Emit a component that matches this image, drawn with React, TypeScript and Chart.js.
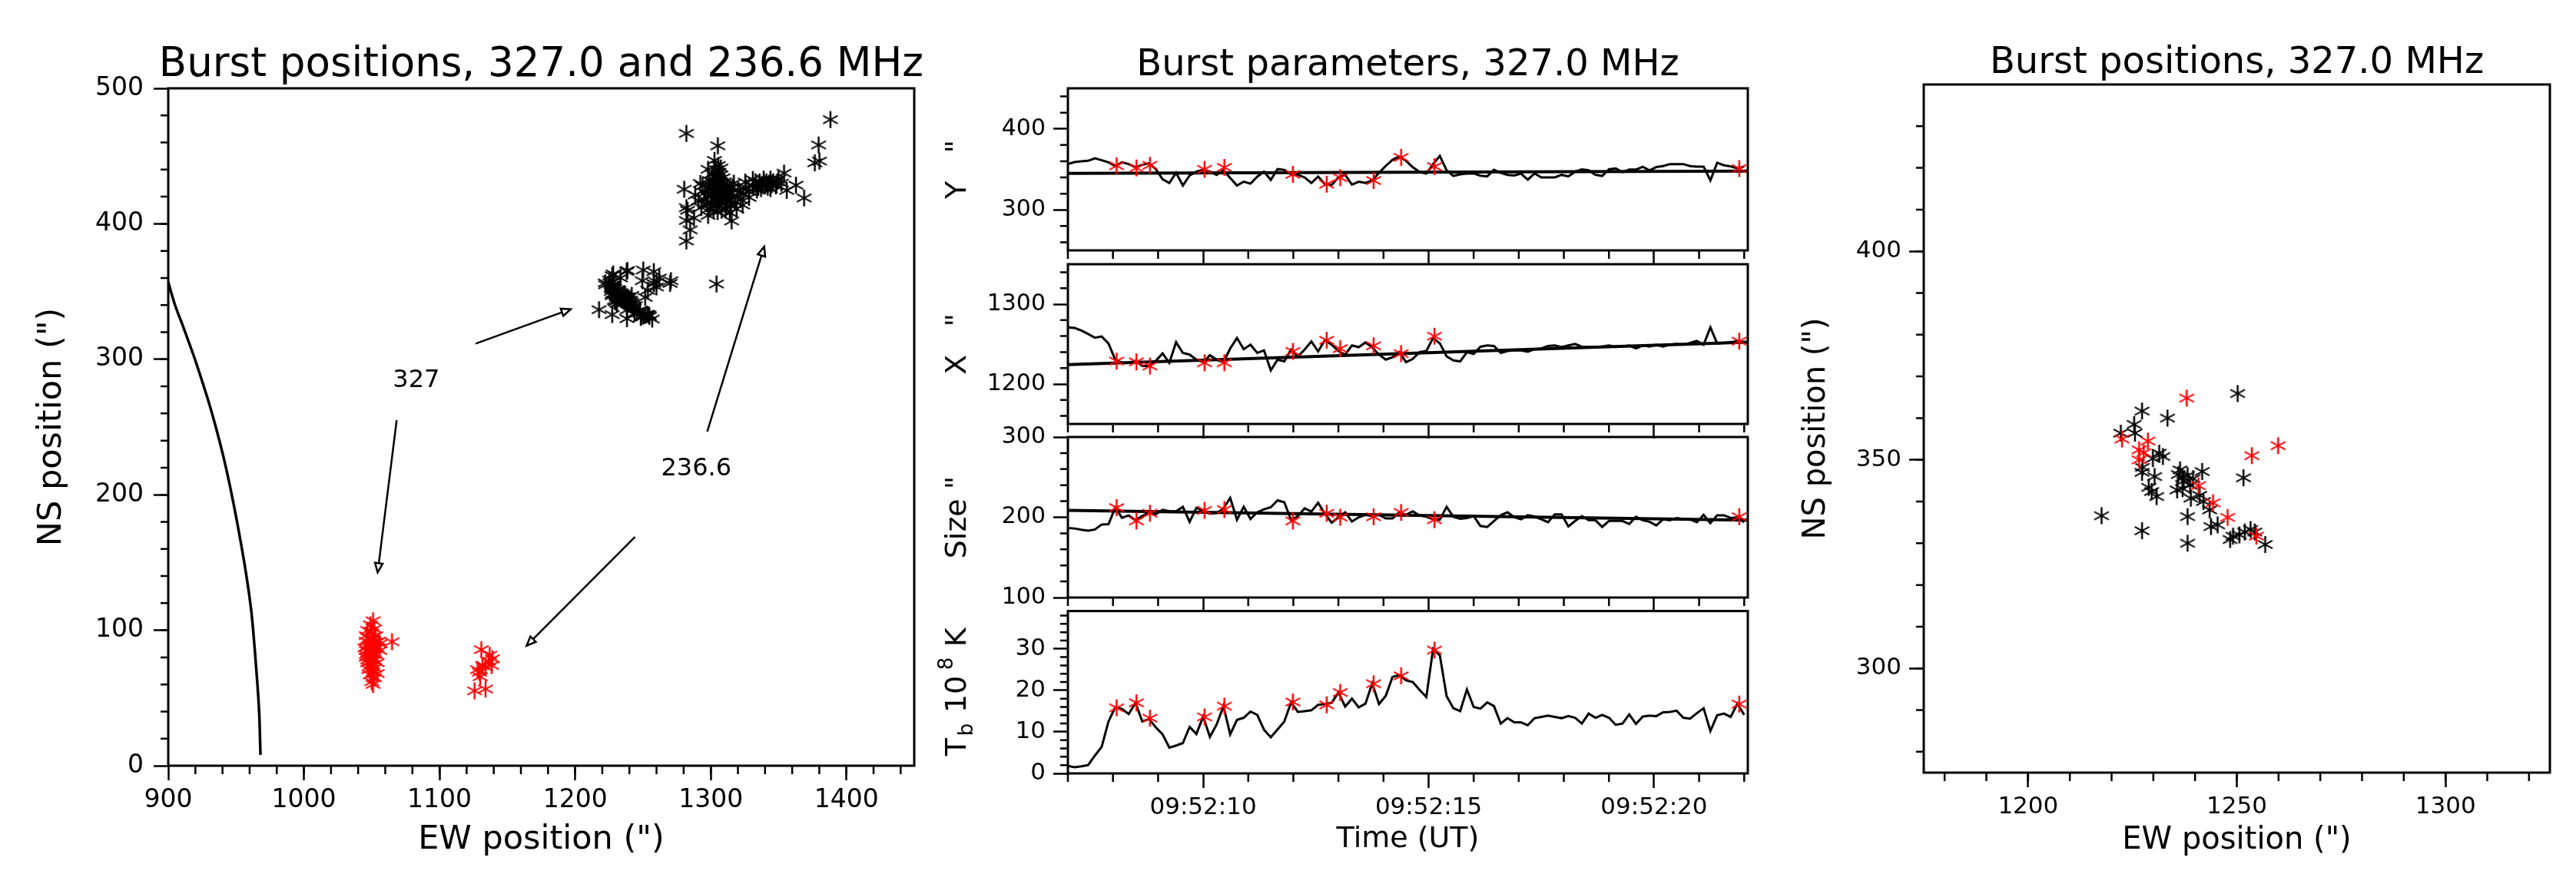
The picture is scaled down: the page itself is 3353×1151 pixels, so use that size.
import { useEffect, useRef } from "react"
import { Chart, registerables } from "chart.js"

Chart.register(...registerables)

const FONT = "'DejaVu Sans'"

// seconds after 09:52:00
const TIMES = [
	7.0, 7.15, 7.3, 7.45, 7.6, 7.75, 7.9, 8.05, 8.2, 8.35,
	8.5, 8.65, 8.8, 8.95, 9.1, 9.25, 9.4, 9.55, 9.7, 9.85,
	10.0, 10.15, 10.3, 10.45, 10.6, 10.75, 10.9, 11.05, 11.2, 11.35,
	11.5, 11.65, 11.8, 11.95, 12.1, 12.25, 12.4, 12.55, 12.7, 12.85,
	13.0, 13.15, 13.3, 13.45, 13.6, 13.75, 13.9, 14.05, 14.2, 14.35,
	14.5, 14.65, 14.8, 14.95, 15.1, 15.25, 15.4, 15.55, 15.7, 15.85,
	16.0, 16.15, 16.3, 16.45, 16.6, 16.75, 16.9, 17.05, 17.2, 17.35,
	17.5, 17.65, 17.8, 17.95, 18.1, 18.25, 18.4, 18.55, 18.7, 18.85,
	19.0, 19.15, 19.3, 19.45, 19.6, 19.75, 19.9, 20.05, 20.2, 20.35,
	20.5, 20.65, 20.8, 20.95, 21.1, 21.25, 21.4, 21.55, 21.7, 21.85,
	22.0,
]
const Y_SERIES = [
	356.5, 359, 359.9, 360.6, 363.7, 361.2, 358.7, 354.3, 358.7, 356.5,
	352.5, 355.6, 357.5, 350.3, 337.9, 333.2, 345.7, 330.1, 342.5, 347.2,
	349.4, 347.2, 343.2, 348.8, 339.4, 330.1, 334.8, 332.3, 341, 347.2,
	337, 350.3, 349.4, 344.1, 343.2, 340.1, 333.2, 341, 331.7, 330.7,
	340.1, 343.2, 331.1, 334.8, 333.2, 336.3, 345.7, 354.3, 361.8, 365.8,
	360.6, 352.5, 346.9, 344.7, 356.5, 366.5, 348.8, 341.9, 343.8, 344.7,
	345, 342.2, 341.3, 349.4, 345.7, 343.2, 342.5, 344.7, 337.3, 345,
	340.1, 340.1, 340.1, 343.2, 341.3, 347.2, 350, 348.8, 343.2, 341.9,
	350, 351.2, 346.6, 349.7, 349.7, 353.1, 348.8, 352.8, 354, 356.5,
	356.5, 356.5, 354, 353.4, 353.4, 336.3, 358.1, 355, 353.7, 351.2,
	353.4,
]
const X_SERIES = [
	1271, 1270.1, 1267, 1262.6, 1257.9, 1259.5, 1250.8, 1230.5, 1226.5, 1226.8,
	1229, 1222.7, 1222.7, 1229, 1238.3, 1226.5, 1252.3, 1238.9, 1236.8, 1230.5,
	1227.4, 1236.1, 1230.5, 1227.4, 1244.5, 1257.6, 1243.6, 1249.2, 1238.9, 1242.1,
	1217.1, 1230.5, 1228.3, 1243, 1234.6, 1243, 1253.3, 1240.8, 1254.8, 1249.2,
	1241.4, 1236.8, 1248.3, 1246.1, 1252, 1246.1, 1236.8, 1230.5, 1233.6, 1239.9,
	1227.4, 1231.5, 1239.9, 1241.4, 1257.6, 1250.8, 1234.6, 1229.6, 1228.3, 1239.9,
	1237.7, 1246.7, 1248.3, 1247.7, 1238.9, 1241.4, 1242.4, 1242.1, 1240.5, 1243.6,
	1244.5, 1247.7, 1248.3, 1246.1, 1248.3, 1250.2, 1246.7, 1246.1, 1246.1, 1247,
	1248.3, 1246.4, 1247, 1248.3, 1244.5, 1248.3, 1247, 1249.2, 1247, 1249.2,
	1250.2, 1249.2, 1251.4, 1253.9, 1249.2, 1271, 1250.8, 1251.4, 1252.3, 1253.9,
	1252.3,
]
const SIZE_SERIES = [
	186.7, 186, 184.5, 183.3, 184.8, 191, 191.3, 211.8, 199.4, 202.2,
	196.3, 201.5, 205.6, 203.7, 209.3, 207.7, 207.4, 213, 194.4, 211.8,
	207.7, 204.6, 205.3, 210.8, 224.1, 196.9, 213, 197.8, 206.2, 209.9,
	212.4, 221, 218.6, 196.3, 201.5, 211.1, 207.1, 218, 204.6, 193.2,
	200, 206.2, 194.7, 200, 203.1, 201.5, 203.1, 198.5, 198.5, 206.2,
	203.1, 207.4, 202.2, 200.6, 197.5, 196.9, 213, 200.6, 198.1, 199.1,
	201.5, 189.2, 187.9, 195.4, 202.5, 206.2, 200, 197.5, 202.5, 200.9,
	197.5, 193.8, 203.7, 203.7, 188.5, 195.4, 201.5, 196.3, 196.3, 187.9,
	195.4, 195.4, 195.4, 191.6, 200.6, 196.3, 194.4, 189.8, 197.5, 196.3,
	199.1, 197.8, 197.5, 193.8, 203.1, 192.6, 202.5, 202.5, 199.1, 200,
	193.8,
]
const TB_SERIES = [
	1.8, 1.5, 1.7, 2, 4.3, 6.4, 12.5, 15.9, 15.5, 14.3,
	17, 12.5, 13.1, 11.1, 9.4, 6.2, 6.7, 7.3, 11.2, 9.5,
	13.7, 8.8, 11.8, 16.2, 9.4, 12.9, 13.4, 14.9, 14.1, 10.5,
	8.7, 10.6, 12.5, 17.1, 14.8, 15, 15.2, 16.5, 16.7, 17,
	19.5, 16.1, 18, 15.9, 16.8, 21.7, 16.7, 18.7, 23.2, 23.7,
	22.4, 22, 20.1, 18.4, 30, 28.4, 18.6, 15.7, 15, 20.2,
	16, 15.6, 17.1, 16.2, 12, 13.3, 12.3, 12.3, 11.6, 13.3,
	13.6, 13.9, 13.6, 13.3, 13.8, 13.4, 12, 14.4, 13.4, 14.1,
	13.4, 11.7, 12, 14.2, 11.9, 13.7, 13.9, 13.8, 14.7, 14.8,
	15.1, 13.4, 13.2, 14.5, 15.7, 10.2, 14, 14.4, 13.6, 16.8,
	14.1,
]

const FIT_TIMES = [7, 22.08]
const Y_FIT = [345, 347.8]
const X_FIT = [1224.3, 1252.3]
const SIZE_FIT = [208.7, 196.3]

// the selected bursts
const BURST_TIMES = [8.08, 8.52, 8.82, 10.03, 10.47, 11.99, 12.74, 13.04, 13.78, 14.39, 15.13, 21.89]
const BURST_Y = [354.5, 351.7, 355, 350, 352.4, 343.8, 331.7, 339.7, 336.2, 364.8, 353.4, 351]
const BURST_X = [1228.7, 1227.7, 1222.5, 1226.6, 1226.6, 1240.8, 1254.7, 1244.3, 1247.8, 1238, 1259.9, 1253.6]
const BURST_SIZE = [212, 195.4, 205, 208.6, 209.6, 195.4, 205, 200, 200.7, 206, 197, 200.7]
const BURST_TB = [15.8, 17, 13.3, 13.6, 16.2, 17.2, 16.5, 19.5, 21.6, 23.5, 29.7, 16.7]

const BLACK_327 = [
	[1217.6, 336.6], [1227.3, 333], [1238.2, 330], [1256.8, 329.7], [1250.2, 365.9], [1251.6, 345.7],
	[1233.4, 360], [1227.3, 361.7], [1225.4, 358.5], [1225.6, 356.4], [1222.2, 356.4], [1231.4, 351.6],
	[1232.3, 350.8], [1229.9, 350.3], [1227.4, 348.2], [1227.3, 347], [1230.3, 346], [1228.9, 343.4],
	[1229.6, 342.4], [1230.8, 341.2], [1236.4, 347.6], [1236, 346.5], [1237, 345.8], [1238.2, 346.2],
	[1239.5, 345.5], [1241.7, 347.2], [1237.3, 344.9], [1235.7, 342.8], [1237, 343.1], [1238.8, 343.9],
	[1239, 340.8], [1241.1, 341.5], [1242, 340], [1238.2, 336.4], [1243.5, 338], [1243.8, 334],
	[1245.4, 334.4], [1248.4, 330.9], [1249.1, 331.7], [1250.6, 332], [1251.9, 332.7], [1253.3, 333.3],
	[1254.3, 332.7],
]
const EXTRA_327 = [
	[1258, 364.7], [1260, 357], [1270.6, 358], [1270, 356], [1249.5, 358], [1228, 363], [1238.5, 365.6],
	[1262, 360], [1258, 356], [1304.2, 355.6], [1229, 352], [1231, 349], [1233, 347], [1235, 345],
	[1237, 342], [1239, 343], [1241, 340], [1243, 337], [1228, 355], [1232, 345],
]
const BLACK_236 = [
	[1282, 466.7], [1305.2, 457.6], [1388.2, 476.9], [1379.5, 458.2], [1380.1, 446.3], [1376.7, 445],
	[1354, 437.4], [1362.8, 428.5], [1368.8, 419.1], [1356, 424.7], [1280.4, 425.5], [1282, 411.9],
	[1282.9, 410], [1282, 402.4], [1284.8, 395.5], [1282, 387.3], [1315.4, 402.1], [1302.7, 446.8],
	[1305.5, 443], [1298, 440.2], [1307.4, 441.2], [1292.3, 429.8], [1288.5, 421.3], [1287.6, 404.3],
	[1298, 406.2], [1314, 408.1], [1323.5, 413.8], [1325.4, 430.8], [1328.2, 419.5], [1321.6, 423.2],
	[1331, 432.7], [1331, 428], [1333, 431], [1335, 427], [1336, 431], [1338, 429], [1339, 433],
	[1340, 428], [1341, 431], [1342, 427], [1343, 430], [1344, 433], [1345, 429], [1346, 431],
	[1348, 428], [1349, 431], [1350, 433], [1337, 426], [1334, 425], [1344, 426], [1352, 430],
	[1316, 420], [1318, 416], [1320, 425], [1322, 418], [1324, 422], [1326, 427], [1319, 411],
	[1317, 430], [1328, 424], [1315, 413], [1300, 415], [1302, 418], [1304, 414], [1306, 417],
	[1308, 415], [1310, 418], [1312, 416], [1301, 422], [1303, 425], [1305, 421], [1307, 424],
	[1309, 421], [1311, 424], [1313, 422], [1300, 428], [1302, 431], [1304, 428], [1306, 431],
	[1308, 428], [1310, 431], [1312, 428], [1314, 426], [1303, 435], [1305, 433], [1307, 436],
	[1309, 434], [1298, 420], [1298, 426], [1296, 423], [1297, 415], [1299, 411], [1302, 410],
	[1305, 409], [1308, 410], [1311, 411], [1314, 417], [1315, 423], [1299, 432], [1301, 437],
	[1295, 418], [1294, 428], [1293, 412], [1291, 417], [1316, 427], [1304, 440], [1306, 438],
]
const RED_A = [
	[1051, 107], [1049, 104], [1052, 101], [1047, 100], [1050, 98], [1046, 96], [1053, 96], [1048, 94],
	[1051, 93], [1046, 92], [1055, 92], [1049, 90], [1047, 88], [1052, 89], [1045, 87], [1050, 86],
	[1054, 87], [1046, 85], [1048, 84], [1051, 83], [1046, 82], [1053, 82], [1046, 80], [1049, 80],
	[1047, 78], [1052, 78], [1047, 76], [1050, 75], [1054, 76], [1048, 73], [1052, 72], [1048, 71],
	[1051, 69], [1054, 68], [1049, 67], [1052, 65], [1050, 62], [1051, 60], [1065, 91.5], [1056, 85],
	[1056, 90],
]
const RED_B = [
	[1130.8, 85.7], [1137, 81.5], [1138.4, 74], [1131.7, 74], [1136, 77], [1129.4, 69], [1133.9, 56.6],
	[1125.8, 55.3], [1130, 65.7], [1134, 73], [1139, 79], [1128, 71],
]
const LIMB_X = [900, 905, 911, 920, 932, 943, 954, 961, 965, 967, 968]
const LIMB_Y = [357, 340, 324, 299, 261, 218, 162, 116, 70, 40, 8]

const ARROWS = [
	[1126.7, 311.6, 1196.7, 337],
	[1068.4, 255, 1054.4, 142.7],
	[1297.4, 246.7, 1339.4, 383.1],
	[1244.1, 168.9, 1164.2, 88.6],
]
const ARROW_LABELS: [string, number, number][] = [
	["327", 1082.9, 284],
	["236.6", 1289.3, 218.8],
]

const SECONDS = [7, 8, 9, 11, 12, 13, 14, 16, 17, 18, 19, 21, 22]

const steps = (from: number, to: number, by: number) => {
	const out: number[] = []
	for (let v = from; v <= to; v += by) out.push(v)
	return out
}
const zip = (xs: number[], ys: number[]) => xs.map((x, i) => ({ x, y: ys[i] }))
const pairs = (list: number[][]) => list.map(([x, y]) => ({ x, y }))

function asterisk(color: string) {
	const c = document.createElement("canvas")
	c.width = 24
	c.height = 26
	const ctx = c.getContext("2d")!
	ctx.strokeStyle = color
	ctx.lineWidth = 2.5
	ctx.beginPath()
	ctx.moveTo(12, 2)
	ctx.lineTo(12, 24)
	ctx.stroke()
	ctx.lineWidth = 2
	ctx.beginPath()
	ctx.moveTo(2.5, 7.8)
	ctx.lineTo(21.5, 18.2)
	ctx.moveTo(2.5, 18.2)
	ctx.lineTo(21.5, 7.8)
	ctx.stroke()
	return c
}

const stars = (data: { x: number; y: number }[], color: string) => ({
	data,
	showLine: false,
	pointStyle: asterisk(color),
	pointRadius: 11,
})
const curve = (data: { x: number; y: number }[], width: number, tension = 0) => ({
	data,
	showLine: true,
	borderColor: "#000",
	borderWidth: width,
	pointRadius: 0,
	tension,
})

interface PanelConfig {
	box: [number, number, number, number] // left, top, right, bottom of the frame
	margin: number
	bottom: number
	top: number
	xRange: [number, number]
	yRange: [number, number]
	xMajor: number[]
	xMinor: number[]
	yMajor: number[]
	yMinor: number[]
	xLabel?: (v: number) => string
	tickFont: number
	yPad: number
	yTitle?: { text: string; size: number; pad: number }
	xTitle?: { text: string; size: number; pad: number }
	title?: { text: string; size: number; baseline: number }
	datasets: any[]
	arrows?: boolean
	tbTitle?: boolean
}

function Panel({ cfg }: { cfg: PanelConfig }) {
	const ref = useRef<HTMLCanvasElement>(null)
	const [l, t, r, b] = cfg.box

	useEffect(() => {
		if (!ref.current) return
		const decor = {
			id: "decor",
			afterDraw(chart: any) {
				const { ctx, chartArea: a, scales } = chart
				ctx.save()
				ctx.strokeStyle = "#000"
				ctx.fillStyle = "#000"
				ctx.lineWidth = 2.5
				ctx.beginPath()
				cfg.xMinor.forEach((v) => {
					const x = scales.x.getPixelForValue(v)
					ctx.moveTo(x, a.bottom)
					ctx.lineTo(x, a.bottom + 11)
				})
				cfg.yMinor.forEach((v) => {
					const y = scales.y.getPixelForValue(v)
					ctx.moveTo(a.left, y)
					ctx.lineTo(a.left - 10, y)
				})
				ctx.stroke()
				ctx.lineWidth = 3
				ctx.strokeRect(a.left, a.top, a.right - a.left, a.bottom - a.top)

				if (cfg.title) {
					ctx.font = `${cfg.title.size}px ${FONT}`
					ctx.textAlign = "center"
					ctx.textBaseline = "alphabetic"
					ctx.fillText(cfg.title.text, (a.left + a.right) / 2, a.top - cfg.title.baseline)
				}

				if (cfg.arrows) {
					ctx.lineWidth = 2.5
					ARROWS.forEach(([x1, y1, x2, y2]) => {
						const ax = scales.x.getPixelForValue(x1)
						const ay = scales.y.getPixelForValue(y1)
						const bx = scales.x.getPixelForValue(x2)
						const by = scales.y.getPixelForValue(y2)
						const ang = Math.atan2(by - ay, bx - ax)
						const hx = bx - 12 * Math.cos(ang)
						const hy = by - 12 * Math.sin(ang)
						const nx = -Math.sin(ang) * 5
						const ny = Math.cos(ang) * 5
						ctx.beginPath()
						ctx.moveTo(ax, ay)
						ctx.lineTo(hx, hy)
						ctx.moveTo(hx + nx, hy + ny)
						ctx.lineTo(bx, by)
						ctx.lineTo(hx - nx, hy - ny)
						ctx.closePath()
						ctx.stroke()
					})
					ctx.font = `32px ${FONT}`
					ctx.textAlign = "center"
					ctx.textBaseline = "middle"
					ARROW_LABELS.forEach(([text, x, y]) => {
						ctx.fillText(text, scales.x.getPixelForValue(x), scales.y.getPixelForValue(y))
					})
				}

				if (cfg.tbTitle) {
					const parts: [string, number, number, number][] = [
						["T", 38, 0, 26],
						["b", 26, 12, 30],
						["10", 38, 0, 56],
						["8", 26, -14, 30],
						["K", 38, 0, 0],
					]
					ctx.translate(a.left - 143, (a.top + a.bottom) / 2 - 3)
					ctx.rotate(-Math.PI / 2)
					ctx.textAlign = "left"
					ctx.textBaseline = "middle"
					let pos = -86
					parts.forEach(([text, size, shift, adv]) => {
						ctx.font = `${size}px ${FONT}`
						ctx.fillText(text, pos, shift)
						pos += adv
					})
				}
				ctx.restore()
			},
		}
		const chart = new Chart(ref.current, {
			type: "scatter",
			data: { datasets: cfg.datasets },
			plugins: [decor],
			options: {
				responsive: false,
				devicePixelRatio: 1,
				animation: false,
				layout: { padding: { top: cfg.top, right: cfg.margin, left: 0, bottom: 0 } },
				plugins: {
					legend: { display: false },
					tooltip: { enabled: false },
				},
				scales: {
					x: {
						type: "linear",
						min: cfg.xRange[0],
						max: cfg.xRange[1],
						afterBuildTicks: (s: any) => {
							s.ticks = cfg.xMajor.map((value) => ({ value }))
						},
						afterFit: (s: any) => {
							s.height = cfg.bottom
						},
						border: { display: false },
						grid: { drawOnChartArea: false, tickLength: 19, tickWidth: 2.5, tickColor: "#000" },
						ticks: {
							display: !!cfg.xLabel,
							color: "#000",
							font: { family: FONT, size: cfg.tickFont },
							padding: 7,
							maxRotation: 0,
							autoSkip: false,
							callback: (v: any) => (cfg.xLabel ? cfg.xLabel(Number(v)) : ""),
						},
						title: cfg.xTitle
							? {
									display: true,
									text: cfg.xTitle.text,
									color: "#000",
									font: { family: FONT, size: cfg.xTitle.size },
									padding: { top: 0, bottom: cfg.xTitle.pad },
								}
							: { display: false },
					},
					y: {
						type: "linear",
						min: cfg.yRange[0],
						max: cfg.yRange[1],
						afterBuildTicks: (s: any) => {
							s.ticks = cfg.yMajor.map((value) => ({ value }))
						},
						afterFit: (s: any) => {
							s.width = cfg.margin
						},
						border: { display: false },
						grid: { drawOnChartArea: false, tickLength: 19, tickWidth: 2.5, tickColor: "#000" },
						ticks: {
							color: "#000",
							font: { family: FONT, size: cfg.tickFont },
							padding: cfg.yPad,
							autoSkip: false,
							callback: (v: any) => String(v),
						},
						title: cfg.yTitle
							? {
									display: true,
									text: cfg.yTitle.text,
									color: "#000",
									font: { family: FONT, size: cfg.yTitle.size },
									padding: { top: cfg.yTitle.pad, bottom: 0 },
								}
							: { display: false },
					},
				},
			},
		} as any)
		return () => chart.destroy()
	}, [cfg])

	return (
		<canvas
			ref={ref}
			width={r - l + cfg.margin * 2}
			height={b - t + cfg.top + cfg.bottom}
			style={{ position: "absolute", left: l - cfg.margin, top: t - cfg.top, display: "block" }}
		/>
	)
}

const stamp = (v: number) => `09:52:${v}`
const timeAxis = {
	xRange: [7, 22.08] as [number, number],
	xMajor: [10, 15, 20],
	xMinor: SECONDS,
	tickFont: 30,
	yPad: 10,
	margin: 190,
}

const PANELS: PanelConfig[] = [
	{
		box: [219, 115, 1190, 997],
		margin: 219,
		top: 110,
		bottom: 130,
		xRange: [900, 1450],
		yRange: [0, 500],
		xMajor: [900, 1000, 1100, 1200, 1300, 1400],
		xMinor: steps(920, 1440, 20),
		yMajor: [0, 100, 200, 300, 400, 500],
		yMinor: steps(20, 480, 20),
		xLabel: String,
		tickFont: 33,
		yPad: 13,
		yTitle: { text: 'NS position (")', size: 43, pad: 42 },
		xTitle: { text: 'EW position (")', size: 43, pad: 7 },
		title: { text: "Burst positions, 327.0 and 236.6 MHz", size: 53, baseline: 16 },
		arrows: true,
		datasets: [
			stars(pairs(RED_A), "#ff0000"),
			stars(pairs(RED_B), "#ff0000"),
			stars(pairs(BLACK_327), "#000"),
			stars(pairs(EXTRA_327), "#000"),
			stars(zip(BURST_X, BURST_Y), "#000"),
			stars(pairs(BLACK_236), "#000"),
			curve(zip(LIMB_X, LIMB_Y), 3.5, 0.3),
		],
	},
	{
		...timeAxis,
		box: [1390, 115, 2275, 329],
		top: 110,
		bottom: 25,
		yRange: [250, 450],
		yMajor: [300, 400],
		yMinor: [260, 280, 320, 340, 360, 380, 420, 440],
		yTitle: { text: 'Y   "', size: 38, pad: 24 },
		title: { text: "Burst parameters, 327.0 MHz", size: 48, baseline: 17 },
		datasets: [
			stars(zip(BURST_TIMES, BURST_Y), "#ff0000"),
			curve(zip(FIT_TIMES, Y_FIT), 4),
			curve(zip(TIMES, Y_SERIES), 3),
		],
	},
	{
		...timeAxis,
		box: [1390, 341, 2275, 555],
		top: 25,
		bottom: 25,
		yRange: [1150, 1350],
		yMajor: [1200, 1300],
		yMinor: [1160, 1180, 1220, 1240, 1260, 1280, 1320, 1340],
		yTitle: { text: 'X   "', size: 38, pad: 24 },
		datasets: [
			stars(zip(BURST_TIMES, BURST_X), "#ff0000"),
			curve(zip(FIT_TIMES, X_FIT), 4),
			curve(zip(TIMES, X_SERIES), 3),
		],
	},
	{
		...timeAxis,
		box: [1390, 566, 2275, 781],
		top: 25,
		bottom: 25,
		yRange: [100, 300],
		yMajor: [100, 200, 300],
		yMinor: [120, 140, 160, 180, 220, 240, 260, 280],
		yTitle: { text: 'Size "', size: 38, pad: 24 },
		datasets: [
			stars(zip(BURST_TIMES, BURST_SIZE), "#ff0000"),
			curve(zip(FIT_TIMES, SIZE_FIT), 4),
			curve(zip(TIMES, SIZE_SERIES), 3),
		],
	},
	{
		...timeAxis,
		box: [1390, 792, 2275, 1007],
		top: 25,
		bottom: 125,
		yRange: [0, 39.1],
		yMajor: [0, 10, 20, 30],
		yMinor: [2, 4, 6, 8, 12, 14, 16, 18, 22, 24, 26, 28, 32, 34, 36, 38],
		xLabel: stamp,
		tickFont: 31,
		xTitle: { text: "Time (UT)", size: 38, pad: 16 },
		tbTitle: true,
		datasets: [
			stars(zip(BURST_TIMES, BURST_TB), "#ff0000"),
			curve(zip(TIMES, TB_SERIES), 3),
		],
	},
	{
		box: [2504, 110, 3319, 1006],
		margin: 170,
		top: 105,
		bottom: 125,
		xRange: [1175, 1325],
		yRange: [275, 440],
		xMajor: [1200, 1250, 1300],
		xMinor: steps(1180, 1320, 10),
		yMajor: [300, 350, 400],
		yMinor: steps(280, 430, 10),
		xLabel: String,
		tickFont: 31,
		yPad: 10,
		yTitle: { text: 'NS position (")', size: 40, pad: 7 },
		xTitle: { text: 'EW position (")', size: 40, pad: 12 },
		title: { text: "Burst positions, 327.0 MHz", size: 48, baseline: 15 },
		datasets: [
			stars(zip(BURST_X, BURST_Y), "#ff0000"),
			stars(pairs(BLACK_327), "#000"),
		],
	},
]

export default function App() {
	return (
		<div style={{ position: "absolute", left: 0, top: 0, width: 3353, height: 1151, background: "#fff", overflow: "hidden" }}>
			{PANELS.map((cfg, i) => (
				<Panel key={i} cfg={cfg} />
			))}
		</div>
	)
}
